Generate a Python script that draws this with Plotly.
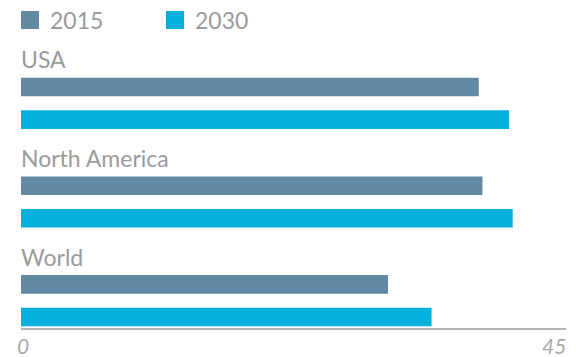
import plotly.graph_objects as go

# Chart data
regions = ["USA", "North America", "World"]
years = ["2015", "2030"]
values_2015 = [37.8, 38.1, 30.3]
values_2030 = [40.3, 40.6, 33.9]
x_ticks = [0, 45]

colors = {"2015": "#6189a4", "2030": "#05b0dc"}
text_grey = "#9b9b9b"
axis_grey = "#b5b5b5"
font_family = "Lato, 'Open Sans', sans-serif"

W, H = 576, 357
L, R, T, B = 21, 10, 40, 29
plot_w = W - L - R
plot_h = H - T - B


def px_x(p):
    """Pixel column -> paper x."""
    return (p - L) / plot_w


def px_y(p):
    """Pixel row -> paper y."""
    return (H - B - p) / plot_h


fig = go.Figure()
for year, vals in zip(years, [values_2015, values_2030]):
    fig.add_trace(go.Bar(
        y=regions, x=vals, name=year, orientation="h",
        marker=dict(color=colors[year], line_width=0),
        showlegend=False, hoverinfo="x+name",
    ))

annotations = []
shapes = []

# Region labels above each pair of bars
for i, region in enumerate(regions):
    annotations.append(dict(
        x=0, y=i - 0.445, xref="x", yref="y", text=region,
        xanchor="left", yanchor="middle", showarrow=False, xshift=-2,
        font=dict(family=font_family, size=23, color=text_grey),
    ))

# Axis end labels
for v in x_ticks:
    annotations.append(dict(
        x=v, y=px_y(345), xref="x", yref="paper", text=f"<i>{v}</i>",
        xanchor="left" if v == x_ticks[0] else "right", yanchor="middle",
        xshift=-5 if v == x_ticks[0] else 1,
        showarrow=False, borderpad=0,
        font=dict(family=font_family, size=21, color="#a8a8a8"),
    ))

# Legend: coloured squares with year labels
legend_x = [21, 166]
for year, x0 in zip(years, legend_x):
    shapes.append(dict(
        type="rect", xref="paper", yref="paper",
        x0=px_x(x0), x1=px_x(x0 + 18), y0=px_y(29), y1=px_y(11),
        fillcolor=colors[year], line_width=0,
    ))
    annotations.append(dict(
        x=px_x(x0 + 27), y=px_y(20), xref="paper", yref="paper", text=year,
        xanchor="left", yanchor="middle", showarrow=False,
        font=dict(family=font_family, size=23, color=text_grey),
    ))

fig.update_layout(
    width=W, height=H,
    margin=dict(l=L, r=R, t=T, b=B, pad=0),
    paper_bgcolor="white", plot_bgcolor="white",
    barmode="group", bargap=0.34, bargroupgap=0.43,
    showlegend=False,
    xaxis=dict(
        range=[x_ticks[0], x_ticks[-1]], showgrid=False, zeroline=False,
        showticklabels=False, ticks="",
        showline=True, linecolor=axis_grey, linewidth=2,
    ),
    yaxis=dict(
        type="category", range=[2.277, -0.642], showgrid=False,
        zeroline=False, showticklabels=False, ticks="", showline=False,
    ),
    annotations=annotations,
    shapes=shapes,
)

fig.write_html("out.html")
